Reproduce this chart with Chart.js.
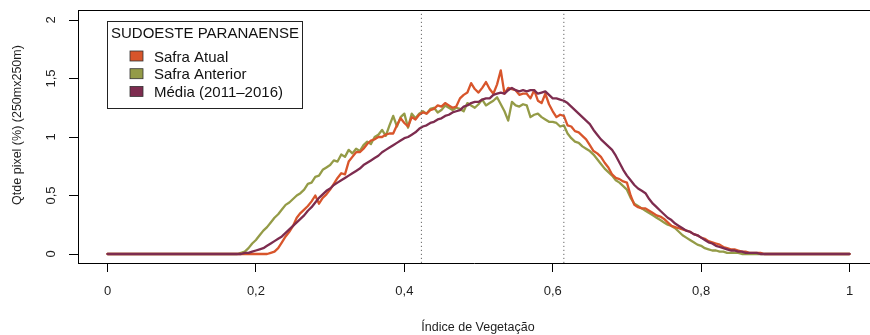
<!DOCTYPE html>
<html lang="pt-BR">
<head>
<meta charset="utf-8">
<title>Sudoeste Paranaense - Índice de Vegetação</title>
<script src="https://cdn.jsdelivr.net/npm/chart.js@4.4.1/dist/chart.umd.min.js"></script>
<style>
  html, body { margin: 0; padding: 0; background: #fff; }
  #wrap { width: 870px; height: 335px; }
</style>
</head>
<body>
<div id="wrap"><canvas id="grafico" width="870" height="335"></canvas></div>
<script>
'use strict';

// eixo x: índice de vegetação (passo de 0,005 onde as curvas não são zero)
var indice = [
  0, 0.1,
  0.17, 0.175, 0.18, 0.185, 0.19, 0.195,
  0.2, 0.205, 0.21, 0.215, 0.22, 0.225, 0.23, 0.235, 0.24, 0.245,
  0.25, 0.255, 0.26, 0.265, 0.27, 0.275, 0.28, 0.285, 0.29, 0.295,
  0.3, 0.305, 0.31, 0.315, 0.32, 0.325, 0.33, 0.335, 0.34, 0.345,
  0.35, 0.355, 0.36, 0.365, 0.37, 0.375, 0.38, 0.385, 0.39, 0.395,
  0.4, 0.405, 0.41, 0.415, 0.42, 0.425, 0.43, 0.435, 0.44, 0.445,
  0.45, 0.455, 0.46, 0.465, 0.47, 0.475, 0.48, 0.485, 0.49, 0.495,
  0.5, 0.505, 0.51, 0.515, 0.52, 0.525, 0.53, 0.535, 0.54, 0.545,
  0.55, 0.555, 0.56, 0.565, 0.57, 0.575, 0.58, 0.585, 0.59, 0.595,
  0.6, 0.605, 0.61, 0.615, 0.62, 0.625, 0.63, 0.635, 0.64, 0.645,
  0.65, 0.655, 0.66, 0.665, 0.67, 0.675, 0.68, 0.685, 0.69, 0.695,
  0.7, 0.705, 0.71, 0.715, 0.72, 0.725, 0.73, 0.735, 0.74, 0.745,
  0.75, 0.755, 0.76, 0.765, 0.77, 0.775, 0.78, 0.785, 0.79, 0.795,
  0.8, 0.805, 0.81, 0.815, 0.82, 0.825, 0.83, 0.835, 0.84, 0.845,
  0.85, 0.855, 0.86, 0.865, 0.87, 0.875, 0.88, 0.885, 0.89, 0.895,
  0.9,
  0.95, 1
];

var safraAtual = [
  0, 0,
  0, 0, 0, 0, 0, 0,
  0, 0, 0, 0, 0.01, 0.02, 0.05, 0.10, 0.15, 0.19,
  0.24, 0.31, 0.35, 0.38, 0.41, 0.45, 0.50, 0.43, 0.48, 0.51,
  0.55, 0.60, 0.65, 0.69, 0.68, 0.79, 0.83, 0.87, 0.87, 0.90,
  0.94, 0.97, 0.98, 1.00, 1.00, 1.02, 1.03, 1.03, 1.10, 1.16,
  1.12, 1.09, 1.17, 1.15, 1.19, 1.21, 1.20, 1.23, 1.24, 1.27,
  1.26, 1.29, 1.27, 1.25, 1.26, 1.33, 1.36, 1.38, 1.46, 1.41,
  1.38, 1.42, 1.47, 1.41, 1.37, 1.45, 1.57, 1.37, 1.42, 1.41,
  1.40, 1.36, 1.37, 1.37, 1.33, 1.40, 1.31, 1.29, 1.37, 1.28,
  1.22, 1.17, 1.19, 1.18, 1.10, 1.09, 1.05, 1.04, 1.01, 0.98,
  0.93, 0.88, 0.86, 0.83, 0.78, 0.74, 0.68, 0.65, 0.64, 0.62,
  0.61, 0.50, 0.42, 0.40, 0.39, 0.39, 0.37, 0.35, 0.33, 0.32,
  0.30, 0.27, 0.24, 0.23, 0.22, 0.21, 0.20, 0.19, 0.17, 0.16,
  0.14, 0.13, 0.11, 0.10, 0.09, 0.08, 0.06, 0.05, 0.04, 0.04,
  0.03, 0.02, 0.02, 0.01, 0.01, 0.01, 0.01, 0, 0, 0,
  0,
  0, 0
];

var safraAnterior = [
  0, 0,
  0, 0, 0.01, 0.02, 0.05, 0.09,
  0.12, 0.16, 0.20, 0.23, 0.27, 0.31, 0.34, 0.38, 0.42, 0.44,
  0.47, 0.50, 0.52, 0.55, 0.60, 0.61, 0.66, 0.67, 0.72, 0.74,
  0.76, 0.80, 0.79, 0.85, 0.83, 0.89, 0.86, 0.90, 0.88, 0.93,
  0.96, 0.94, 1.00, 1.02, 1.06, 1.01, 1.10, 1.18, 1.09, 1.17,
  1.20, 1.08, 1.20, 1.16, 1.20, 1.22, 1.20, 1.24, 1.25, 1.21,
  1.23, 1.27, 1.25, 1.23, 1.25, 1.24, 1.22, 1.29, 1.27, 1.25,
  1.28, 1.32, 1.27, 1.29, 1.31, 1.34, 1.28, 1.22, 1.14, 1.30,
  1.27, 1.26, 1.28, 1.27, 1.17, 1.19, 1.20, 1.17, 1.15, 1.13,
  1.13, 1.12, 1.09, 1.10, 1.03, 0.99, 0.96, 0.95, 0.92, 0.90,
  0.88, 0.85, 0.81, 0.77, 0.73, 0.70, 0.67, 0.63, 0.61, 0.58,
  0.55, 0.48, 0.43, 0.41, 0.39, 0.37, 0.35, 0.33, 0.31, 0.29,
  0.27, 0.25, 0.24, 0.22, 0.19, 0.16, 0.14, 0.12, 0.10, 0.08,
  0.07, 0.05, 0.04, 0.03, 0.03, 0.02, 0.02, 0.01, 0.01, 0.01,
  0.01, 0, 0, 0, 0, 0, 0, 0, 0, 0,
  0,
  0, 0
];

var media = [
  0, 0,
  0, 0, 0, 0.01, 0.01, 0.02,
  0.03, 0.04, 0.05, 0.07, 0.09, 0.11, 0.13, 0.15, 0.18, 0.21,
  0.24, 0.27, 0.30, 0.33, 0.37, 0.40, 0.44, 0.48, 0.51, 0.54,
  0.56, 0.59, 0.61, 0.63, 0.65, 0.67, 0.69, 0.71, 0.73, 0.76,
  0.78, 0.80, 0.82, 0.84, 0.87, 0.89, 0.91, 0.93, 0.95, 0.97,
  0.99, 1.00, 1.02, 1.04, 1.07, 1.09, 1.10, 1.12, 1.13, 1.15,
  1.16, 1.18, 1.19, 1.21, 1.22, 1.23, 1.26, 1.27, 1.29, 1.30,
  1.30, 1.32, 1.33, 1.33, 1.36, 1.37, 1.38, 1.37, 1.40, 1.42,
  1.40, 1.39, 1.40, 1.39, 1.40, 1.40, 1.37, 1.38, 1.39, 1.36,
  1.33, 1.33, 1.32, 1.31, 1.29, 1.26, 1.23, 1.20, 1.17, 1.14,
  1.11, 1.06, 1.02, 0.98, 0.95, 0.92, 0.89, 0.84, 0.78, 0.72,
  0.67, 0.63, 0.59, 0.56, 0.54, 0.52, 0.47, 0.43, 0.40, 0.37,
  0.34, 0.31, 0.29, 0.26, 0.24, 0.22, 0.20, 0.19, 0.17, 0.16,
  0.14, 0.12, 0.10, 0.09, 0.07, 0.06, 0.05, 0.04, 0.03, 0.03,
  0.02, 0.02, 0.01, 0.01, 0.01, 0.01, 0, 0, 0, 0,
  0,
  0, 0
];

// linhas pontilhadas verticais
var linhasRef = [0.423, 0.615];

var xTicks = [0, 0.2, 0.4, 0.6, 0.8, 1];
var xTickLabels = ['0', '0,2', '0,4', '0,6', '0,8', '1'];
var yTicks = [0, 0.5, 1, 1.5, 2];
var yTickLabels = ['0', '0,5', '1', '1,5', '2'];

var legendaTitulo = 'SUDOESTE PARANAENSE';
var nomesSeries = ['Safra Atual', 'Safra Anterior', 'Média (2011–2016)'];
var coresSeries = ['#d8552b', '#949b47', '#7d2c4f'];

(function () {
  var X_MIN = -0.0398, X_MAX = 1.0276;
  var Y_MIN = -0.0769, Y_MAX = 2.0855;
  var corTexto = '#1e1e1e';
  var fonte = '"Liberation Sans", Arial, Helvetica, sans-serif';

  Chart.defaults.font.family = fonte;

  function pontos(serie) {
    return indice.map(function (x, i) { return { x: x, y: serie[i] }; });
  }

  function serieDataset(idx, serie, ordem) {
    return {
      label: nomesSeries[idx],
      data: pontos(serie),
      borderColor: coresSeries[idx],
      backgroundColor: coresSeries[idx],
      borderWidth: 2.3,
      pointRadius: 0,
      tension: 0,
      fill: false,
      borderJoinStyle: 'round',
      borderCapStyle: 'round',
      order: ordem
    };
  }

  var datasets = [
    serieDataset(0, safraAtual, 2),
    serieDataset(1, safraAnterior, 3),
    serieDataset(2, media, 1)
  ];

  linhasRef.forEach(function (v) {
    datasets.push({
      label: 'ref',
      data: [{ x: v, y: Y_MIN }, { x: v, y: Y_MAX }],
      borderColor: '#666',
      borderWidth: 1,
      borderDash: [1.2, 2.8],
      pointRadius: 0,
      order: 0
    });
  });

  // caixa, rótulos do eixo y, títulos e legenda no estilo do R
  var moldura = {
    id: 'moldura',
    afterDraw: function (chart) {
      var ctx = chart.ctx;
      var area = chart.chartArea;
      var sy = chart.scales.y;

      ctx.save();
      ctx.strokeStyle = '#000';
      ctx.lineWidth = 1;
      ctx.beginPath();
      ctx.moveTo(area.left, Math.round(area.top) + 0.5);
      ctx.lineTo(area.right, Math.round(area.top) + 0.5);
      ctx.stroke();

      ctx.fillStyle = corTexto;
      ctx.font = '13px ' + fonte;
      ctx.textAlign = 'center';
      ctx.textBaseline = 'middle';
      yTicks.forEach(function (v, i) {
        ctx.save();
        ctx.translate(51, sy.getPixelForValue(v));
        ctx.rotate(-Math.PI / 2);
        ctx.fillText(yTickLabels[i], 0, 0);
        ctx.restore();
      });

      ctx.font = '12.5px ' + fonte;
      ctx.save();
      ctx.translate(18, 125);
      ctx.rotate(-Math.PI / 2);
      ctx.fillText('Qtde pixel (%) (250mx250m)', 0, 0);
      ctx.restore();

      ctx.textBaseline = 'alphabetic';
      ctx.fillText('Índice de Vegetação', 478, 331);

      // legenda
      ctx.fillStyle = '#fff';
      ctx.fillRect(107, 21, 195, 87);
      ctx.strokeStyle = '#222';
      ctx.strokeRect(107.5, 21.5, 195, 87);

      ctx.fillStyle = '#111';
      ctx.font = '15px ' + fonte;
      ctx.textAlign = 'left';
      ctx.fillText(legendaTitulo, 111, 38);

      nomesSeries.forEach(function (nome, i) {
        var base = 61.5 + i * 17.7;
        ctx.fillStyle = coresSeries[i];
        ctx.fillRect(130, base - 10.5, 13, 10);
        ctx.strokeStyle = '#333';
        ctx.lineWidth = 0.8;
        ctx.strokeRect(130, base - 10.5, 13, 10);
        ctx.fillStyle = '#111';
        ctx.fillText(nome, 154, base);
      });
      ctx.restore();
    }
  };

  new Chart(document.getElementById('grafico'), {
    type: 'line',
    data: { datasets: datasets },
    plugins: [moldura],
    options: {
      responsive: false,
      animation: false,
      devicePixelRatio: 1,
      events: [],
      layout: { padding: { top: 10, left: 0, right: 0, bottom: 0 } },
      plugins: {
        legend: { display: false },
        tooltip: { enabled: false }
      },
      scales: {
        x: {
          type: 'linear',
          min: X_MIN,
          max: X_MAX,
          afterBuildTicks: function (s) {
            s.ticks = xTicks.map(function (v) { return { value: v }; });
          },
          afterFit: function (s) { s.height = 72; },
          ticks: {
            autoSkip: false,
            maxRotation: 0,
            padding: 12,
            color: corTexto,
            font: { size: 13 },
            callback: function (v, i) { return xTickLabels[i]; }
          },
          grid: {
            drawOnChartArea: false,
            drawTicks: true,
            tickLength: 9,
            color: '#000'
          },
          border: { display: true, color: '#000', width: 1 }
        },
        y: {
          type: 'linear',
          min: Y_MIN,
          max: Y_MAX,
          afterBuildTicks: function (s) {
            s.ticks = yTicks.map(function (v) { return { value: v }; });
          },
          afterFit: function (s) { s.width = 78; },
          ticks: { display: false },
          grid: {
            drawOnChartArea: false,
            drawTicks: true,
            tickLength: 9,
            color: '#000'
          },
          border: { display: true, color: '#000', width: 1 }
        }
      }
    }
  });
})();
</script>
</body>
</html>
